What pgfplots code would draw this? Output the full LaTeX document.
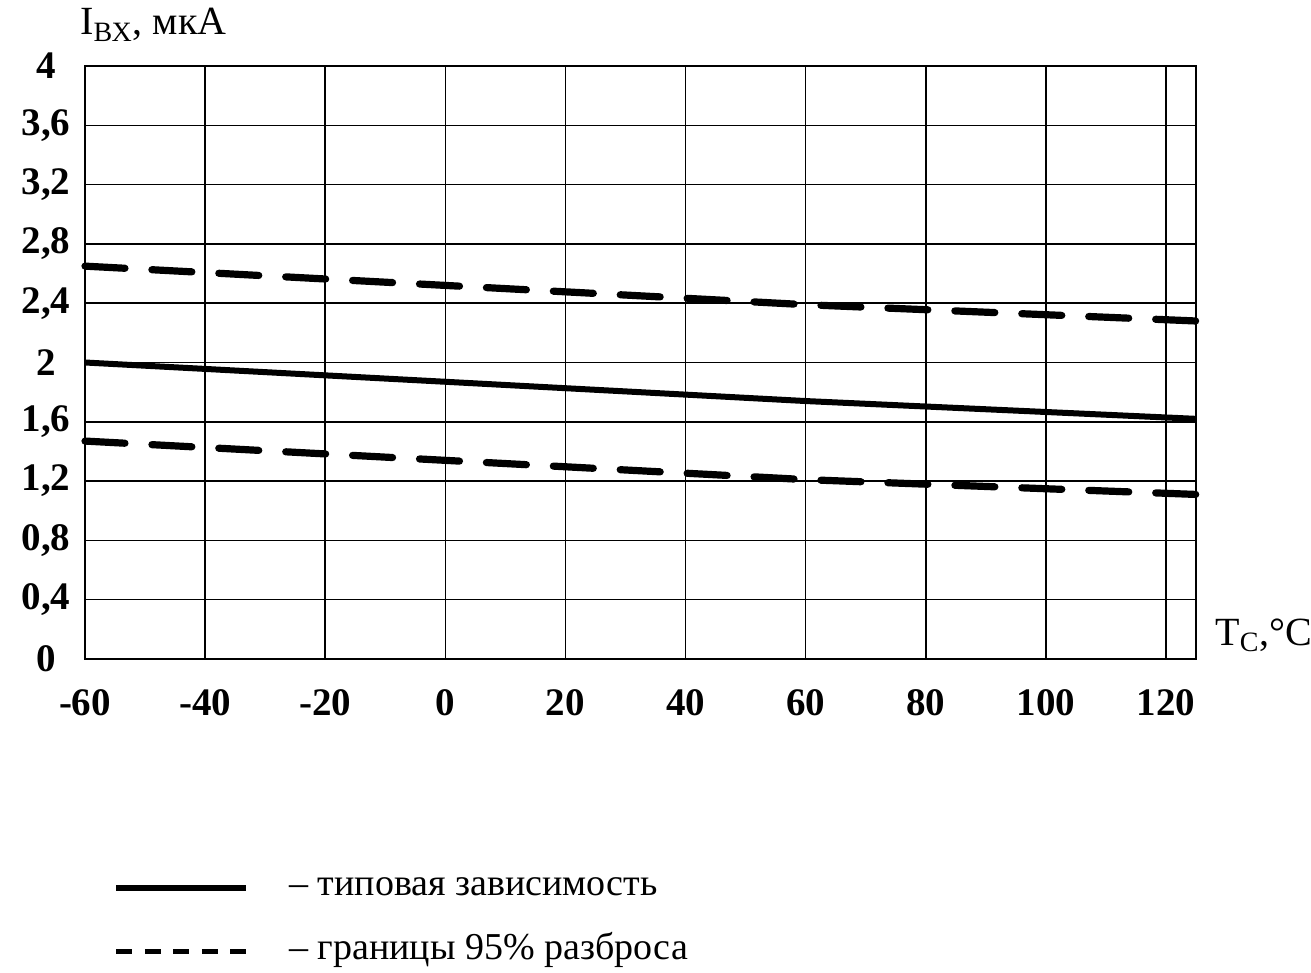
\documentclass[border=0pt]{standalone}
\usepackage{pgfplots}
\pgfplotsset{compat=1.18}
\usepackage{fontspec}
\setmainfont{Liberation Serif}
\begin{document}
\begin{tikzpicture}
\useasboundingbox (-42.5pt,-157pt) rectangle (613pt,329.5pt);
\begin{axis}[
  width=555.5pt, height=296.5pt, scale only axis,
  xmin=-60, xmax=125, ymin=0, ymax=4,
  xtick={-60,-40,-20,0,20,40,60,80,100,120},
  ytick={0,0.4,0.8,1.2,1.6,2,2.4,2.8,3.2,3.6,4},
  yticklabels={0,{0,4},{0,8},{1,2},{1,6},2,{2,4},{2,8},{3,2},{3,6},4},
  grid=major,
  major grid style={black, line width=0.75pt},
  axis line style={black, line width=1pt},
  major tick length=0pt,
  /pgf/number format/assume math mode=true,
  ticklabel style={font=\fontsize{19.5}{22}\selectfont\bfseries},
  yticklabel style={anchor=center, xshift=-19.5pt},
  xticklabel style={anchor=center, yshift=-22pt},
  clip=false,
  legend style={draw=none, fill=none, at={(rel axis cs:0.0252,-0.358)}, anchor=north west,
    font=\fontsize{19}{22}\selectfont, row sep=16pt, inner sep=0pt,
    nodes={inner sep=0pt, text height=12pt, text depth=4pt},
    /tikz/every even column/.append style={column sep=0pt}},
  legend cell align=left,
  legend image code/.code={\draw[#1] (0pt,0pt) -- (65pt,0pt);},
]
\addplot[black, line width=3pt] coordinates {(-60,2.00) (0,1.87) (60,1.74) (125,1.62)};
\addlegendentry{\hspace{20pt}– типовая зависимость}
\addlegendimage{black, line width=2.5pt, dash pattern=on 8pt off 6.25pt}
\addlegendentry{\hspace{20pt}– границы 95\% разброса}
\addplot[black, line width=3.6pt, line cap=round, dash pattern=on 20pt off 13.5pt, forget plot] coordinates {(-60,2.65) (0,2.52) (60,2.39) (125,2.28)};
\addplot[black, line width=3.6pt, line cap=round, dash pattern=on 20pt off 13.5pt, forget plot] coordinates {(-60,1.47) (0,1.34) (60,1.21) (125,1.11)};
\node[anchor=base west, inner sep=0pt, font=\fontsize{20}{23}\selectfont] at (rel axis cs:0,1) [xshift=-2.5pt, yshift=15.5pt] {I\textsubscript{ВХ}, мкА};
\node[anchor=base west, inner sep=0pt, font=\fontsize{20}{23}\selectfont] at (rel axis cs:1,0) [xshift=9.5pt, yshift=7pt] {T\textsubscript{C},°C};
\end{axis}
\end{tikzpicture}
\end{document}
